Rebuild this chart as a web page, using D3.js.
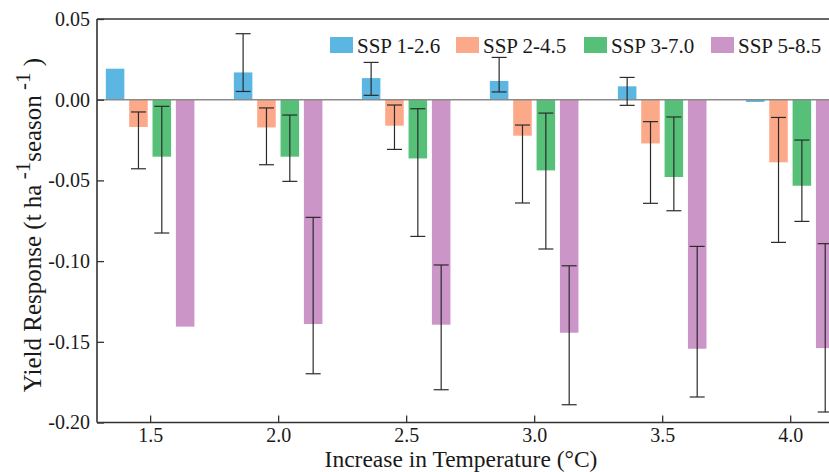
<!DOCTYPE html>
<html>
<head>
<meta charset="utf-8">
<script src="https://cdn.jsdelivr.net/npm/d3@7/dist/d3.min.js"></script>
<style>
  html, body { margin: 0; padding: 0; background: #fff; }
  svg { display: block; }
  text { font-family: "Liberation Serif", "Times New Roman", serif; fill: #1a1a1a; }
</style>
</head>
<body>
<svg id="chart" width="829" height="472"></svg>
<script>
// ---- data ----
const temperatures = [1.5, 2.0, 2.5, 3.0, 3.5, 4.0];
const scenarios = ["SSP 1-2.6", "SSP 2-4.5", "SSP 3-7.0", "SSP 5-8.5"];
const colors = ["#5cb6e2", "#fca98a", "#56c078", "#cb95c8"];

const ssp126 = [0.0192, 0.0169, 0.0134, 0.0116, 0.0083, -0.0014];
const ssp245 = [-0.0169, -0.0172, -0.0161, -0.0223, -0.0271, -0.0388];
const ssp370 = [-0.0353, -0.0353, -0.0364, -0.0438, -0.0479, -0.0533];
const ssp585 = [-0.1406, -0.1390, -0.1394, -0.1444, -0.1543, -0.1539];

// error bar ends (upper, lower); null = no error bar drawn
const ssp126Hi = [null, 0.0409, 0.0231, 0.0262, 0.0138, null];
const ssp126Lo = [null, 0.0051, 0.0027, 0.0048, -0.0035, null];
const ssp245Hi = [-0.0076, -0.0051, -0.0033, -0.0157, -0.0136, -0.0110];
const ssp245Lo = [-0.0428, -0.0403, -0.0308, -0.0640, -0.0642, -0.0884];
const ssp370Hi = [-0.0041, -0.0095, -0.0056, -0.0083, -0.0107, -0.0250];
const ssp370Lo = [-0.0826, -0.0506, -0.0847, -0.0925, -0.0688, -0.0754];
const ssp585Hi = [null, -0.0729, -0.1024, -0.1029, -0.0909, -0.0892];
const ssp585Lo = [null, -0.1698, -0.1797, -0.1890, -0.1842, -0.1935];

const yTicks = [0.05, 0.00, -0.05, -0.10, -0.15, -0.20];
const yTickLabels = ["0.05", "0.00", "-0.05", "-0.10", "-0.15", "-0.20"];
const xTickLabels = ["1.5", "2.0", "2.5", "3.0", "3.5", "4.0"];

const values = [ssp126, ssp245, ssp370, ssp585];
const his = [ssp126Hi, ssp245Hi, ssp370Hi, ssp585Hi];
const los = [ssp126Lo, ssp245Lo, ssp370Lo, ssp585Lo];

// ---- layout ----
const svg = d3.select("#chart");
const mLeft = 97, mTop = 19, mBottom = 422.5, mRight = 867;

const x = d3.scaleLinear().domain([1.2925, 4.3]).range([mLeft, mRight]);
const y = d3.scaleLinear().domain([-0.20, 0.05]).range([mBottom, mTop]);
const groupHalf = 0.173; // half-width of a group in °C units
const inner = d3.scaleBand().domain(scenarios)
  .range([x(1.5 - groupHalf) - x(1.5), x(1.5 + groupHalf) - x(1.5)])
  .paddingInner(0.206).paddingOuter(0);

const records = [];
scenarios.forEach((s, si) => {
  temperatures.forEach((t, ti) => {
    records.push({ s, si, t, v: values[si][ti], hi: his[si][ti], lo: los[si][ti] });
  });
});

// bars
svg.append("g").selectAll("rect").data(records).join("rect")
  .attr("x", d => x(d.t) + inner(d.s))
  .attr("width", inner.bandwidth())
  .attr("y", d => y(Math.max(0, d.v)))
  .attr("height", d => Math.abs(y(d.v) - y(0)))
  .attr("fill", d => colors[d.si]);

// zero line
svg.append("line")
  .attr("x1", mLeft).attr("x2", mRight)
  .attr("y1", y(0)).attr("y2", y(0))
  .attr("stroke", "#8a8a8a").attr("stroke-width", 1.6);

// error bars
const capW = 15;
const errG = svg.append("g").attr("stroke", "#2b2b2b").attr("stroke-width", 1.2);
records.filter(d => d.hi !== null).forEach(d => {
  const cx = x(d.t) + inner(d.s) + inner.bandwidth() / 2;
  errG.append("line").attr("x1", cx).attr("x2", cx).attr("y1", y(d.hi)).attr("y2", y(d.lo));
  errG.append("line").attr("x1", cx - capW / 2).attr("x2", cx + capW / 2).attr("y1", y(d.hi)).attr("y2", y(d.hi));
  errG.append("line").attr("x1", cx - capW / 2).attr("x2", cx + capW / 2).attr("y1", y(d.lo)).attr("y2", y(d.lo));
});

// axes
const yAxis = d3.axisLeft(y).tickValues(yTicks).tickSize(-7).tickPadding(7)
  .tickFormat((d, i) => yTickLabels[i]);
const gy = svg.append("g").attr("transform", `translate(${mLeft},0)`).call(yAxis);
const xAxis = d3.axisBottom(x).tickValues(temperatures).tickSize(-7).tickPadding(5)
  .tickFormat((d, i) => xTickLabels[i]);
const gx = svg.append("g").attr("transform", `translate(0,${mBottom})`).call(xAxis);
[gx, gy].forEach(g => {
  g.select(".domain").remove();
  g.selectAll(".tick line").attr("stroke", "#333").attr("stroke-width", 1.3);
  g.selectAll(".tick text").attr("font-size", 20).attr("fill", "#1a1a1a");
});
// frame lines
svg.append("line").attr("x1", mLeft).attr("x2", mLeft).attr("y1", mTop).attr("y2", mBottom)
  .attr("stroke", "#333").attr("stroke-width", 1.6);
svg.append("line").attr("x1", mLeft).attr("x2", mRight).attr("y1", mBottom).attr("y2", mBottom)
  .attr("stroke", "#333").attr("stroke-width", 1.6);
svg.append("line").attr("x1", mLeft).attr("x2", mRight).attr("y1", mTop).attr("y2", mTop)
  .attr("stroke", "#333").attr("stroke-width", 1.6);

// legend
const legendX = [330, 456, 584, 711];
const lg = svg.append("g");
scenarios.forEach((s, i) => {
  lg.append("rect").attr("x", legendX[i]).attr("y", 37).attr("width", 23).attr("height", 16)
    .attr("fill", colors[i]);
  lg.append("text").attr("x", legendX[i] + 27).attr("y", 52.5)
    .attr("font-size", 21).text(s);
});

// axis titles
svg.append("text").attr("x", 461).attr("y", 467).attr("text-anchor", "middle")
  .attr("font-size", 23.5).text("Increase in Temperature (°C)");

const yt = svg.append("text").attr("transform", "translate(41,225) rotate(-90)")
  .attr("text-anchor", "middle").attr("font-size", 25);
yt.append("tspan").text("Yield Response (t ha");
yt.append("tspan").attr("dy", -11).attr("font-size", 21).text(" -1");
yt.append("tspan").attr("dy", 11).text("season");
yt.append("tspan").attr("dy", -11).attr("font-size", 21).text(" -1");
yt.append("tspan").attr("dy", 11).text(" )");
</script>
</body>
</html>
